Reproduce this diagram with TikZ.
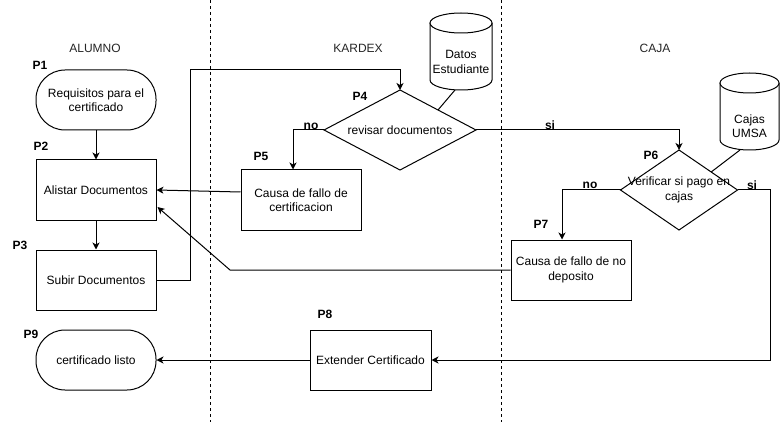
\documentclass[tikz,border=0pt]{standalone}
\usepackage{fontspec}
\setmainfont{Liberation Sans}
\usetikzlibrary{arrows.meta,calc}
\begin{document}
\begin{tikzpicture}[x=1pt,y=-1pt,
  every node/.style={font=\fontsize{12}{14.5}\selectfont, align=center, inner sep=0pt},
  box/.style={draw, line width=1pt, minimum width=120pt, minimum height=60pt},
  term/.style={box, rounded corners=29pt},
  dec/.style={draw, line width=1pt},
  plab/.style={font=\bfseries\fontsize{12}{14}\selectfont},
  lane/.style={font=\fontsize{12}{14}\selectfont, text=black!85},
  conn/.style={line width=1pt, -{Stealth[length=7pt,width=7pt,inset=2pt]}},
  plainconn/.style={line width=1pt},
  lanesep/.style={line width=0.8pt, dash pattern=on 3pt off 3pt},
]
\useasboundingbox (0,0) rectangle (781,422);
\fill[white] (0,0) rectangle (781,422);

% lane separators
\draw[lanesep] (210,0) -- (210,422);
\draw[lanesep] (501,0) -- (501,422);

% lane titles
\node[lane] (lalumno) at (95,48) {ALUMNO};
\node[lane] (lkardex) at (358,48) {KARDEX};
\node[lane] (lcaja) at (655,48) {CAJA};

% nodes
\node[term] (p1) at (96,100) {Requisitos para el\\certificado};
\node[box] (p2) at (96,190) {Alistar Documentos};
\node[box] (p3) at (96,280) {Subir Documentos};
\node[term] (p9) at (96,360) {certificado listo};
\node[box] (p5) at (301,200) {Causa de fallo de\\certificacion};
\node[box] (p7) at (571,270) {Causa de fallo de no\\deposito};
\node[box, minimum width=121pt] (p8) at (370.5,360) {Extender Certificado};

% diamonds
\coordinate (p4) at (400,130);
\draw[dec] (400,90) coordinate (p4n) -- (476,130) coordinate (p4e) -- (400,170) coordinate (p4s) -- (324,130) coordinate (p4w) -- cycle;
\node (p4t) at (p4) {revisar documentos};
\coordinate (p6) at (679,190);
\draw[dec] (679,150) coordinate (p6n) -- (737.5,190) coordinate (p6e) -- (679,230) coordinate (p6s) -- (620.5,190) coordinate (p6w) -- cycle;
\node (p6t) at (679,190) {Verificar si pago en\\cajas};

% cylinders
\fill[white] (430,23) -- (430,80) arc[start angle=180,end angle=360,x radius=31pt,y radius=10pt] -- (492,23) -- cycle;
\draw[line width=1pt] (430,23) -- (430,80) arc[start angle=180,end angle=360,x radius=31pt,y radius=10pt] -- (492,23);
\draw[line width=1pt, fill=white] (461,23) ellipse[x radius=31pt, y radius=10pt];
\node (db1) at (461,62) {Datos\\Estudiante};
\coordinate (db1b) at (455,90);

\fill[white] (720,83) -- (720,140) arc[start angle=180,end angle=360,x radius=29.5pt,y radius=10pt] -- (779,83) -- cycle;
\draw[line width=1pt] (720,83) -- (720,140) arc[start angle=180,end angle=360,x radius=29.5pt,y radius=10pt] -- (779,83);
\draw[line width=1pt, fill=white] (749.5,83) ellipse[x radius=29.5pt, y radius=10pt];
\node (db2) at (749.5,126) {Cajas\\UMSA};
\coordinate (db2b) at (740,150);

% P labels
\node[plab] (l1) at (40,65) {P1};
\node[plab] (l2) at (41,146) {P2};
\node[plab] (l3) at (20,245) {P3};
\node[plab] (l4) at (360,96) {P4};
\node[plab] (l5) at (261,156) {P5};
\node[plab] (l6) at (651,155) {P6};
\node[plab] (l7) at (541,224) {P7};
\node[plab] (l8) at (325,314) {P8};
\node[plab] (l9) at (31,334) {P9};

% connectors
\draw[conn] (p1.south) -- (p2.north);
\draw[conn] (p2.south) -- (p3.north);
\coordinate (c1) at (190,70);
\draw[conn] (p3.east) -| (c1) -| (p4n);
\draw[conn] (p4w) -| ($(p5.north)+(-8,0)$);
\node[plab] (no1) at (311,126) {no};
\draw[conn] (p4e) -| (p6n);
\node[plab] (si1) at (550,125) {si};
\draw[conn] (p6w) -| ($(p7.north)+(-9,0)$);
\node[plab] (no2) at (590,185) {no};
\coordinate (c2) at (770,360);
\draw[conn] (p6e) -| (c2) -- (p8.east);
\node[plab] (si2) at (752,185) {si};
\draw[conn] (p8.west) -- (p9.east);
\draw[conn] ($(p5.west)+(0,-8)$) -- (p2.east);
\coordinate (c3) at (230,270);
\draw[conn] (p7.west) -- (c3) -- ($(p2.east)+(1,17)$);
\draw[plainconn] (db1b) -- ($(p4n)!0.5!(p4e)$);
\draw[plainconn] (db2b) -- ($(p6n)!0.55!(p6e)$);
\end{tikzpicture}
\end{document}
